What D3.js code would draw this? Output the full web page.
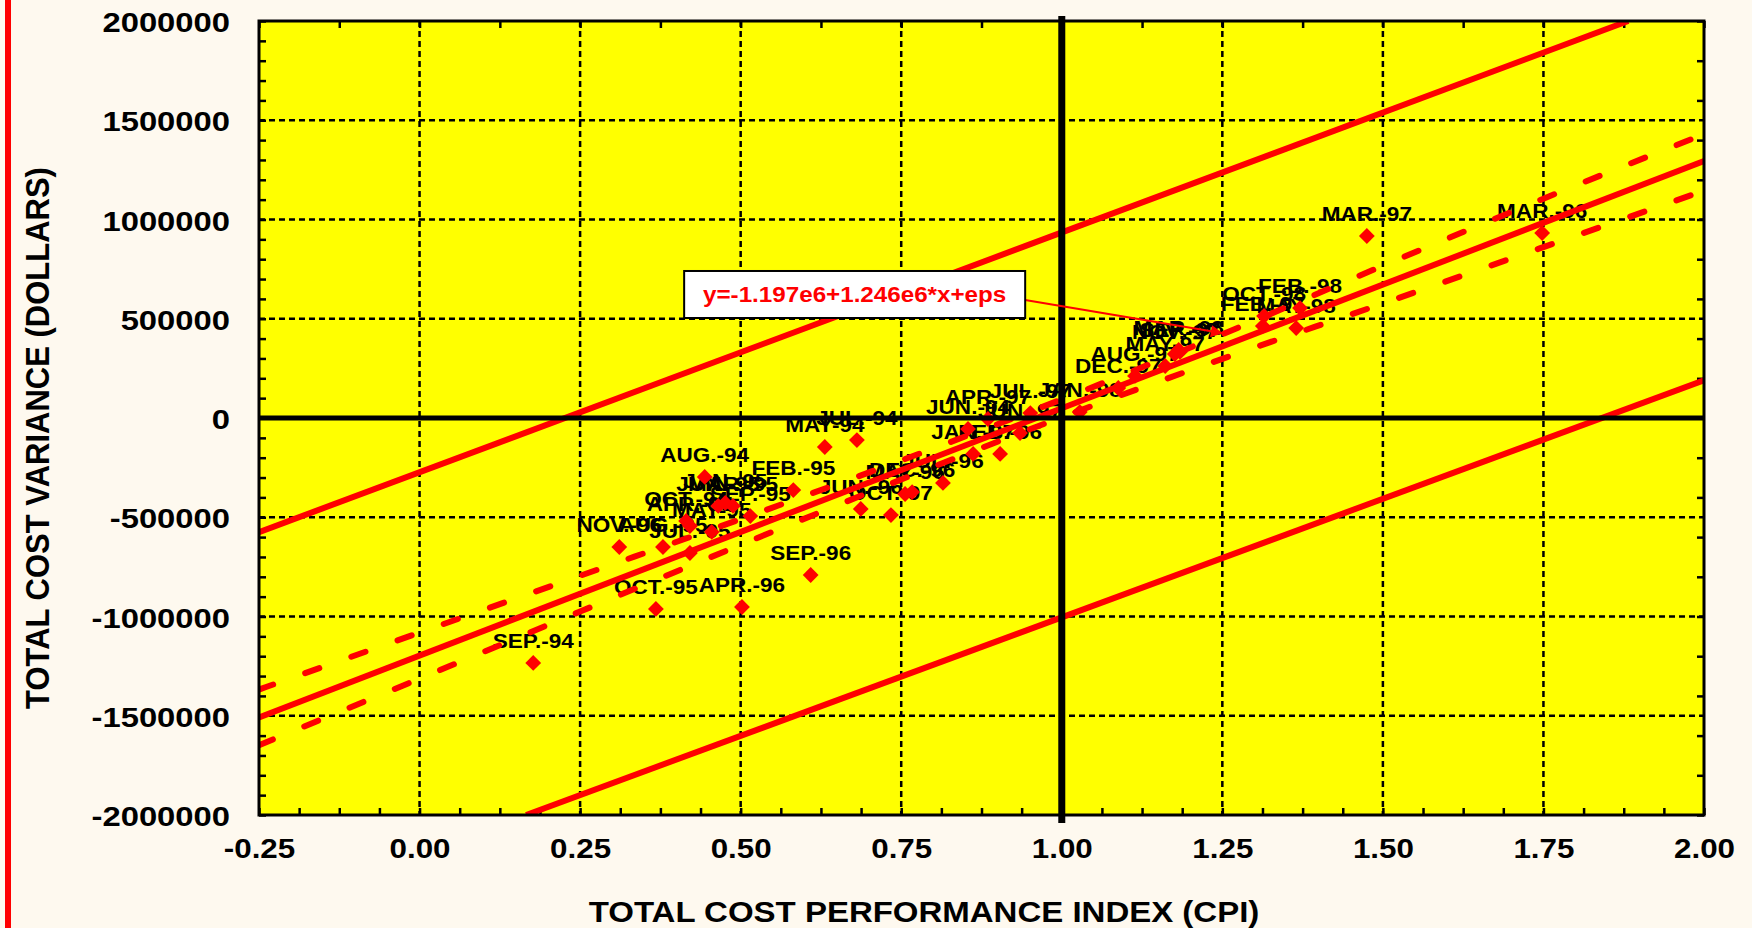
<!DOCTYPE html>
<html>
<head>
<meta charset="utf-8">
<script src="https://cdn.jsdelivr.net/npm/d3@7"></script>
<style>
  html, body { margin: 0; padding: 0; background: #FEF9EF; }
  svg { display: block; }
  text { font-family: "Liberation Sans", Arial, sans-serif; font-weight: bold; }
</style>
</head>
<body>
<svg id="chart" width="1752" height="928"></svg>
<script>
// ---------------- DATA ----------------
const xTickValues = [-0.25, 0, 0.25, 0.5, 0.75, 1.0, 1.25, 1.5, 1.75, 2.0];
const yTickValues = [-2000000, -1500000, -1000000, -500000, 0, 500000, 1000000, 1500000, 2000000];

const monthLabels = [
  "MAY-94","JUN.-94","JUL.-94","AUG.-94","SEP.-94","OCT.-94",
  "JAN.-95","FEB.-95","MAR.-95","APR.-95","MAY-95","JUN.-95","JUL.-95","AUG.-95","SEP.-95","OCT.-95",
  "FEB.-96","MAR.-96","APR.-96","MAY-96","JUN.-96","JUL.-96","SEP.-96","NOV.-96","DEC.-96",
  "JAN.-97","FEB.-97","MAR.-97","APR.-97","MAY-97","JUN.-97","JUL.-97","AUG.-97","SEP.-97","OCT.-97","NOV.-97","DEC.-97",
  "JAN.-98","FEB.-98","MAR.-98","MAY-98","OCT.-98"
];
const cpiValues = [
  0.631, 0.854, 0.681, 0.444, 0.177, 0.415,
  0.476, 0.582, 0.488, 0.421, 0.455, 0.465, 0.421, 0.379, 0.515, 0.368,
  0.904, 1.748, 0.502, 0.756, 0.687, 0.815, 0.609, 0.311, 0.767,
  0.862, 1.313, 1.475, 0.885, 1.161, 0.935, 0.951, 1.114, 1.184, 0.734, 1.176, 1.088,
  1.028, 1.371, 1.182, 1.365, 1.315
];
const costVarianceValues = [
  -146000, -55000, -111000, -297000, -1234000, -519000,
  -428000, -363000, -443000, -544000, -574000, -443000, -680000, -650000, -494000, -962000,
  -181000, 932000, -952000, -383000, -458000, -327000, -791000, -650000, -373000,
  -181000, 463000, 917000, -5000, 262000, -76000, 25000, 212000, 333000, -489000, 322000, 151000,
  30000, 554000, 343000, 453000, 514000
];

// fitted line y = -1.197e6 + 1.246e6*x (endpoints)
const fitX = [-0.25, 2.0];
const fitY = [-1508500, 1295000];

// confidence band (dashed)
const bandX     = [-0.25, 0, 0.25, 0.5, 0.75, 1.0, 1.25, 1.5, 1.75, 2.0];
const bandUpper = [-1368000, -1081000, -795000, -509000, -214000, 94000, 422000, 767000, 1105000, 1430000];
const bandLower = [-1648000, -1313000, -975000, -639000, -310000, 4000, 298000, 577000, 861000, 1145000];

// prediction limits (outer solid lines)
const predUpperX = [-0.25, 1.882];
const predUpperY = [-575000, 2000000];
const predLowerX = [0.166, 2.0];
const predLowerY = [-2000000, 190000];

const equationText = "y=-1.197e6+1.246e6*x+eps";
const equationBox = { x0: 0.412, x1: 0.943, y0: 740600, y1: 503800 };
const arrowFrom = [0.943, 595000];
const arrowTo = [1.249, 428000];

// ---------------- CHART ----------------
const svg = d3.select("#chart");
const W = 1752, H = 928;
const pLeft = 259, pRight = 1704, pTop = 21, pBottom = 815;
const SX = 1.1;   // horizontal stretch of glyphs
const SXY = 1.15; // stretch for y tick labels

const x = d3.scaleLinear().domain([-0.25, 2.0]).range([pLeft, pRight]);
const y = d3.scaleLinear().domain([-2000000, 2000000]).range([pBottom, pTop]);
const hyphen = f => v => f(v).replace("\u2212", "-");

svg.append("rect").attr("width", W).attr("height", H).attr("fill", "#FEF9EF");
svg.append("rect").attr("x", 5).attr("y", 0).attr("width", 6).attr("height", H).attr("fill", "#FF0000");

const defs = svg.append("defs");
defs.append("clipPath").attr("id", "plotClip")
  .append("rect").attr("x", pLeft).attr("y", pTop).attr("width", pRight - pLeft).attr("height", pBottom - pTop);
defs.append("marker")
  .attr("id", "arrowHead").attr("viewBox", "0 0 10 10").attr("refX", 9).attr("refY", 5)
  .attr("markerWidth", 8).attr("markerHeight", 6).attr("markerUnits", "strokeWidth")
  .attr("orient", "auto")
  .append("path").attr("d", "M0,0 L10,5 L0,10 z").attr("fill", "#FF0000");

svg.append("rect").attr("x", pLeft).attr("y", pTop).attr("width", pRight - pLeft).attr("height", pBottom - pTop)
  .attr("fill", "#FFFF00");

// grid
const grid = svg.append("g");
grid.append("g").selectAll("line").data(xTickValues.filter(v => v > -0.25 && v < 2.0)).join("line")
  .attr("x1", d => x(d)).attr("x2", d => x(d)).attr("y1", pTop).attr("y2", pBottom)
  .attr("stroke", "#000").attr("stroke-width", 2.5).attr("stroke-dasharray", "6,4");
grid.append("g").selectAll("line").data(yTickValues.filter(v => v > -2000000 && v < 2000000)).join("line")
  .attr("y1", d => y(d)).attr("y2", d => y(d)).attr("x1", pLeft).attr("x2", pRight)
  .attr("stroke", "#000").attr("stroke-width", 2.5).attr("stroke-dasharray", "6,4");

// minor ticks via axes
function minorAxis(axis, transform) {
  const g = svg.append("g").attr("transform", transform).call(axis);
  g.select(".domain").remove();
  g.selectAll("line").attr("stroke", "#000").attr("stroke-width", 2.5);
  g.selectAll("text").remove();
}
minorAxis(d3.axisBottom(x).tickValues(d3.range(-0.25, 2.0001, 0.0625)).tickSize(-7).tickFormat(""), `translate(0,${pBottom})`);
minorAxis(d3.axisTop(x).tickValues(d3.range(-0.25, 2.0001, 0.125)).tickSize(-7).tickFormat(""), `translate(0,${pTop})`);
minorAxis(d3.axisLeft(y).tickValues(d3.range(-2000000, 2000001, 100000)).tickSize(-7).tickFormat(""), `translate(${pLeft},0)`);
minorAxis(d3.axisRight(y).tickValues(d3.range(-2000000, 2000001, 200000)).tickSize(-7).tickFormat(""), `translate(${pRight},0)`);

// data labels (drawn beneath lines)
const pts = monthLabels.map((m, i) => ({ label: m, cpi: cpiValues[i], cv: costVarianceValues[i] }));
const labelG = svg.append("g");
labelG.selectAll("text").data(pts).join("text")
  .attr("transform", d => `translate(${x(d.cpi)},${y(d.cv) - 15}) scale(${SX},1)`)
  .attr("text-anchor", "middle").attr("font-size", 20.5).attr("fill", "#000")
  .text(d => d.label);

const plot = svg.append("g").attr("clip-path", "url(#plotClip)");

// diamonds
plot.append("g").selectAll("path").data(pts).join("path")
  .attr("d", d3.symbol(d3.symbolSquare, 125))
  .attr("transform", d => `translate(${x(d.cpi)},${y(d.cv)}) rotate(45)`)
  .attr("fill", "#FF0000");

const line = d3.line().x(d => x(d[0])).y(d => y(d[1]));
const curve = d3.line().x(d => x(d[0])).y(d => y(d[1])).curve(d3.curveMonotoneX);

// confidence band (dashed)
[bandUpper, bandLower].forEach(arr => {
  plot.append("path").datum(bandX.map((v, i) => [v, arr[i]]))
    .attr("d", curve).attr("fill", "none").attr("stroke", "#FF0000")
    .attr("stroke-width", 6).attr("stroke-linecap", "round").attr("stroke-dasharray", "15,34");
});
// fit line
plot.append("path").datum(fitX.map((v, i) => [v, fitY[i]]))
  .attr("d", line).attr("fill", "none").attr("stroke", "#FF0000").attr("stroke-width", 6);
// prediction limits
plot.append("path").datum(predUpperX.map((v, i) => [v, predUpperY[i]]))
  .attr("d", line).attr("fill", "none").attr("stroke", "#FF0000").attr("stroke-width", 6);
plot.append("path").datum(predLowerX.map((v, i) => [v, predLowerY[i]]))
  .attr("d", line).attr("fill", "none").attr("stroke", "#FF0000").attr("stroke-width", 6);

// zero lines
svg.append("line").attr("x1", pLeft).attr("x2", pRight).attr("y1", y(0)).attr("y2", y(0))
  .attr("stroke", "#000").attr("stroke-width", 5);
svg.append("line").attr("x1", x(1)).attr("x2", x(1)).attr("y1", pTop - 5).attr("y2", pBottom + 8)
  .attr("stroke", "#000").attr("stroke-width", 7);

// frame
svg.append("rect").attr("x", pLeft).attr("y", pTop).attr("width", pRight - pLeft).attr("height", pBottom - pTop)
  .attr("fill", "none").attr("stroke", "#000").attr("stroke-width", 3);

// annotation
svg.append("line")
  .attr("x1", x(arrowFrom[0])).attr("y1", y(arrowFrom[1]))
  .attr("x2", x(arrowTo[0])).attr("y2", y(arrowTo[1]))
  .attr("stroke", "#FF0000").attr("stroke-width", 2).attr("marker-end", "url(#arrowHead)");
svg.append("rect")
  .attr("x", x(equationBox.x0)).attr("y", y(equationBox.y0))
  .attr("width", x(equationBox.x1) - x(equationBox.x0)).attr("height", y(equationBox.y1) - y(equationBox.y0))
  .attr("fill", "#FFFFFF").attr("stroke", "#000").attr("stroke-width", 2);
svg.append("text")
  .attr("transform", `translate(${(x(equationBox.x0) + x(equationBox.x1)) / 2},${(y(equationBox.y0) + y(equationBox.y1)) / 2 + 8}) scale(${SX},1)`)
  .attr("text-anchor", "middle").attr("font-size", 22).attr("fill", "#FF0000")
  .text(equationText);

// axes labels
const yAxis = svg.append("g").attr("transform", `translate(${pLeft},0)`)
  .call(d3.axisLeft(y).tickValues(yTickValues).tickSize(0).tickPadding(0).tickFormat(hyphen(d3.format("d"))));
yAxis.select(".domain").remove();
yAxis.selectAll("text")
  .attr("x", -29 / SXY).attr("dy", null).attr("y", 10.5)
  .attr("transform", `scale(${SXY},1)`)
  .attr("font-size", 28.5).attr("font-family", "Liberation Sans, Arial, sans-serif")
  .attr("font-weight", "bold").attr("fill", "#000");

const xAxis = svg.append("g").attr("transform", `translate(0,${pBottom})`)
  .call(d3.axisBottom(x).tickValues(xTickValues).tickSize(0).tickPadding(0).tickFormat(hyphen(d3.format(".2f"))));
xAxis.select(".domain").remove();
xAxis.selectAll("text")
  .attr("x", 0).attr("y", 43).attr("dy", null)
  .attr("transform", `scale(${SX},1)`)
  .attr("font-size", 28.5).attr("font-family", "Liberation Sans, Arial, sans-serif")
  .attr("font-weight", "bold").attr("fill", "#000");

// titles
svg.append("text")
  .attr("transform", `translate(924,922) scale(${SX},1)`)
  .attr("text-anchor", "middle").attr("font-size", 30).attr("fill", "#000")
  .text("TOTAL COST PERFORMANCE INDEX (CPI)");
svg.append("text")
  .attr("transform", `translate(49,438) rotate(-90) scale(1,${SX})`)
  .attr("text-anchor", "middle").attr("font-size", 31).attr("fill", "#000")
  .text("TOTAL COST VARIANCE (DOLLARS)");
</script>
</body>
</html>
